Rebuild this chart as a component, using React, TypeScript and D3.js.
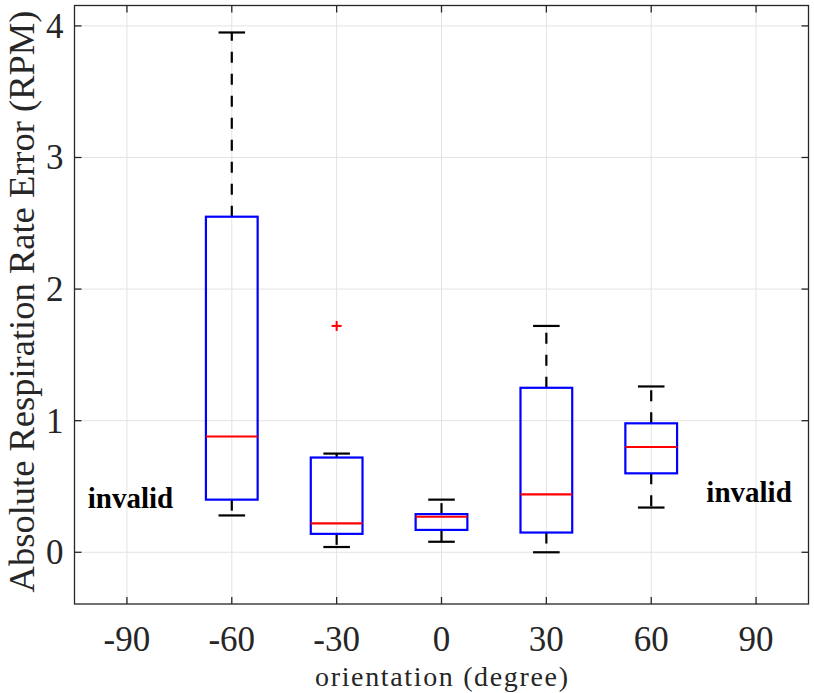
import React from 'react';
import * as d3 from 'd3';

const orientations = [-60, -30, 0, 30, 60];
const whiskerLow = [0.28, 0.04, 0.08, 0.0, 0.34];
const q1 = [0.4, 0.14, 0.17, 0.15, 0.6];
const medians = [0.88, 0.22, 0.27, 0.44, 0.8];
const q3 = [2.55, 0.72, 0.29, 1.25, 0.98];
const whiskerHigh = [3.95, 0.75, 0.4, 1.72, 1.26];
const outliers = [{ x: -30, y: 1.72 }];
const invalidAt = [
  { x: -89, y: 0.34 },
  { x: 88, y: 0.38 },
];
const xTicks = [-90, -60, -30, 0, 30, 60, 90];
const yTicks = [0, 1, 2, 3, 4];

const W = 814;
const H = 693;
const m = { left: 74.5, right: 808.5, top: 5.5, bottom: 604 };
const font = '"Liberation Serif", "Times New Roman", serif';
const axisColor = '#262626';

const App = () => {
  const x = d3.scaleLinear().domain([-105, 105]).range([m.left, m.right]);
  const y = d3.scaleLinear().domain([-0.393, 4.155]).range([m.bottom, m.top]);
  const boxHalf = x(7.4) - x(0);
  const capHalf = x(3.8) - x(0);
  const tickLen = 7;

  return (
    <svg width={W} height={H} style={{ position: 'absolute', left: 0, top: 0, background: '#fff' }}>
      {/* grid */}
      <g stroke="#e3e3e3" strokeWidth={1}>
        {xTicks.map((t) => (
          <line key={`gx${t}`} x1={x(t)} x2={x(t)} y1={m.top} y2={m.bottom} />
        ))}
        {yTicks.map((t) => (
          <line key={`gy${t}`} x1={m.left} x2={m.right} y1={y(t)} y2={y(t)} />
        ))}
      </g>

      {/* boxes */}
      {orientations.map((o, i) => {
        const cx = x(o);
        return (
          <g key={o}>
            <line x1={cx} x2={cx} y1={y(q3[i])} y2={y(whiskerHigh[i])} stroke="#000" strokeWidth={2.2} strokeDasharray="11 11" />
            <line x1={cx} x2={cx} y1={y(q1[i])} y2={y(whiskerLow[i])} stroke="#000" strokeWidth={2.2} strokeDasharray="11 11" />
            <line x1={cx - capHalf} x2={cx + capHalf} y1={y(whiskerHigh[i])} y2={y(whiskerHigh[i])} stroke="#000" strokeWidth={2.2} />
            <line x1={cx - capHalf} x2={cx + capHalf} y1={y(whiskerLow[i])} y2={y(whiskerLow[i])} stroke="#000" strokeWidth={2.2} />
            <rect
              x={cx - boxHalf}
              y={y(q3[i])}
              width={boxHalf * 2}
              height={y(q1[i]) - y(q3[i])}
              fill="none"
              stroke="#0000ff"
              strokeWidth={2.2}
            />
            <line x1={cx - boxHalf} x2={cx + boxHalf} y1={y(medians[i])} y2={y(medians[i])} stroke="#ff0000" strokeWidth={2.2} />
          </g>
        );
      })}

      {/* outliers */}
      {outliers.map((p, i) => (
        <g key={`o${i}`} stroke="#ff0000" strokeWidth={2}>
          <line x1={x(p.x) - 5} x2={x(p.x) + 5} y1={y(p.y)} y2={y(p.y)} />
          <line x1={x(p.x)} x2={x(p.x)} y1={y(p.y) - 5} y2={y(p.y) + 5} />
        </g>
      ))}

      {/* invalid labels */}
      {invalidAt.map((p, i) => (
        <text key={`inv${i}`} x={x(p.x)} y={y(p.y)} textAnchor="middle" fontFamily={font} fontWeight="bold" fontSize={29} fill="#000">
          invalid
        </text>
      ))}

      {/* axes box */}
      <rect x={m.left} y={m.top} width={m.right - m.left} height={m.bottom - m.top} fill="none" stroke={axisColor} strokeWidth={1.3} />
      <g stroke={axisColor} strokeWidth={1.3}>
        {xTicks.map((t) => (
          <g key={`tx${t}`}>
            <line x1={x(t)} x2={x(t)} y1={m.bottom} y2={m.bottom - tickLen} />
            <line x1={x(t)} x2={x(t)} y1={m.top} y2={m.top + tickLen} />
          </g>
        ))}
        {yTicks.map((t) => (
          <g key={`ty${t}`}>
            <line x1={m.left} x2={m.left + tickLen} y1={y(t)} y2={y(t)} />
            <line x1={m.right} x2={m.right - tickLen} y1={y(t)} y2={y(t)} />
          </g>
        ))}
      </g>

      {/* tick labels */}
      <g fontFamily={font} fontSize={35} fill={axisColor}>
        {xTicks.map((t) => (
          <text key={`lx${t}`} x={x(t)} y={m.bottom + 47} textAnchor="middle">
            {t}
          </text>
        ))}
        {yTicks.map((t) => (
          <text key={`ly${t}`} x={m.left - 11} y={y(t) + 12} textAnchor="end">
            {t}
          </text>
        ))}
      </g>

      {/* axis labels */}
      <text x={x(0)} y={686} textAnchor="middle" fontFamily={font} fontSize={28} fill={axisColor} textLength={253} lengthAdjust="spacing">
        orientation (degree)
      </text>
      <text
        transform={`translate(34, 301.5) rotate(-90)`}
        textAnchor="middle"
        fontFamily={font}
        fontSize={36.5}
        fill={axisColor}
      >
        Absolute Respiration Rate Error (RPM)
      </text>
    </svg>
  );
};

export default App;
